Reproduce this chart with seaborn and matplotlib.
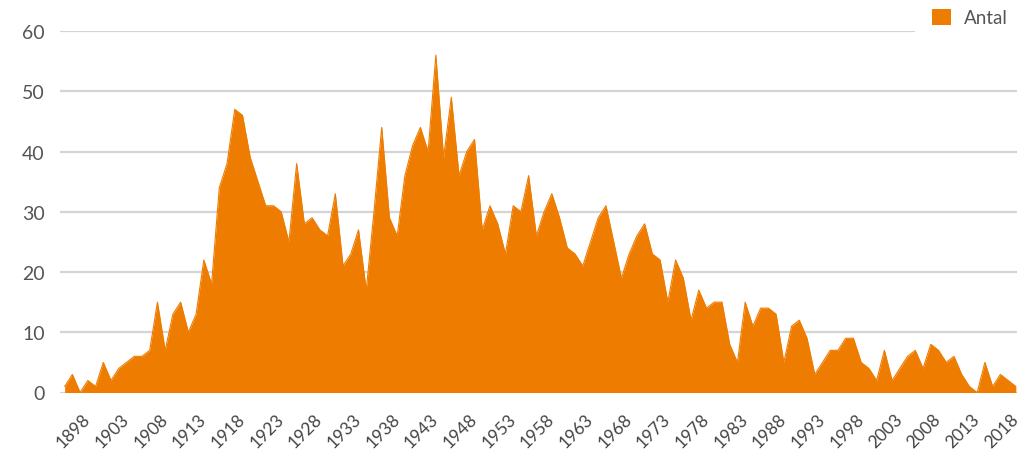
import pandas as pd
import seaborn as sns
import matplotlib.pyplot as plt

# --- data ---
years = list(range(1895, 2019))
antal = [
    1, 3, 0, 2, 1, 5, 2, 4, 5, 6,          # 1895-1904
    6, 7, 15, 7, 13, 15, 10, 13, 22, 18,   # 1905-1914
    34, 38, 47, 46, 39, 35, 31, 31, 30, 25,  # 1915-1924
    38, 28, 29, 27, 26, 33, 21, 23, 27, 17,  # 1925-1934
    30, 44, 29, 26, 36, 41, 44, 40, 56, 39,  # 1935-1944
    49, 36, 40, 42, 27, 31, 28, 23, 31, 30,  # 1945-1954
    36, 26, 30, 33, 29, 24, 23, 21, 25, 29,  # 1955-1964
    31, 25, 19, 23, 26, 28, 23, 22, 15, 22,  # 1965-1974
    19, 12, 17, 14, 15, 15, 8, 5, 15, 11,    # 1975-1984
    14, 14, 13, 5, 11, 12, 9, 3, 5, 7,       # 1985-1994
    7, 9, 9, 5, 4, 2, 7, 2, 4, 6,            # 1995-2004
    7, 4, 8, 7, 5, 6, 3, 1, 0, 5,            # 2005-2014
    1, 3, 2, 1,                              # 2015-2018
]
tick_years = list(range(1898, 2019, 5))
y_ticks = [0, 10, 20, 30, 40, 50, 60]

ORANGE = "#EE7C00"

df = pd.DataFrame({"År": years, "Antal": antal})

sns.set_theme(style="white")
plt.rcParams["font.family"] = ["Lato", "DejaVu Sans"]

fig = plt.figure(figsize=(10.35, 4.6), dpi=100)
ax = fig.add_axes([60 / 1035, (460 - 393.5) / 460, (1017 - 60) / 1035, (393.5 - 32) / 460])

# area + thin outline in the same colour
ax.fill_between(df["År"], df["Antal"], color=ORANGE, linewidth=0, label="Antal", zorder=2)
sns.lineplot(data=df, x="År", y="Antal", color=ORANGE, linewidth=0.8, ax=ax, zorder=2, legend=False)

ax.set_xlim(1895 - 0.6, 2018 + 0.15)
ax.set_ylim(0, 60)
ax.set_yticks(y_ticks)
ax.yaxis.grid(True, color="#d4d4d4", linewidth=1.6)
ax.xaxis.grid(False)
ax.set_axisbelow(True)
for s in ax.spines.values():
    s.set_visible(False)

ax.tick_params(axis="y", length=0, pad=11, labelsize=14, labelcolor="#555555")
ax.set_xticks(tick_years)
ax.set_xticklabels([str(y) for y in tick_years], rotation=45, ha="right",
                   va="center", rotation_mode="anchor")
ax.tick_params(axis="x", length=0, pad=17, labelsize=12.5, labelcolor="#444444")
ax.set_xlabel("")
ax.set_ylabel("")

handles, labels = ax.get_legend_handles_labels()
fig.legend(handles, labels, loc="center left",
           bbox_to_anchor=(915 / 1035, 1 - 18.5 / 460),
           frameon=True, facecolor="white", edgecolor="none", framealpha=1,
           fontsize=13.5, handlelength=1.0, handleheight=1.0, handletextpad=0.7,
           borderpad=0.9, borderaxespad=0, labelcolor="#555555")

fig.savefig("out.png", dpi=100)
